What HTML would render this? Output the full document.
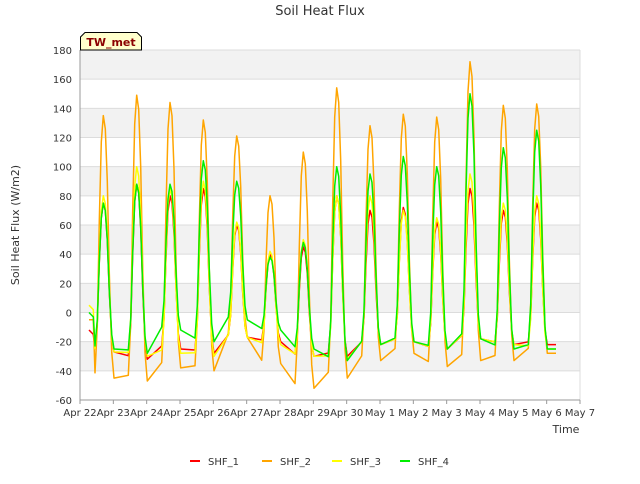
<!DOCTYPE html>
<html><head><meta charset="utf-8"><style>
body{margin:0;background:#fff;font-family:"DejaVu Sans","Liberation Sans",sans-serif;}
svg text{font-family:"DejaVu Sans","Liberation Sans",sans-serif;}
</style></head><body>
<svg id="chart" width="640" height="480" viewBox="0 0 640 480" xmlns="http://www.w3.org/2000/svg">
<g id="bands"></g>
<g id="grid"></g>
<g id="series"></g>
<g id="axes"></g>
<text x="320" y="15" text-anchor="middle" font-size="13" fill="#333">Soil Heat Flux</text>
<text transform="translate(19,225) rotate(-90)" text-anchor="middle" font-size="11" fill="#333">Soil Heat Flux (W/m2)</text>
<text x="566" y="433" text-anchor="middle" font-size="11" fill="#333">Time</text>
<g>
<path d="M80.5,50 L80.5,37 L85,32.5 L137,32.5 L141.5,37 L141.5,50 Z" fill="#ffffcc" stroke="#000" stroke-width="1"/>
<text x="111" y="46" text-anchor="middle" font-size="11" font-weight="bold" fill="#8b0000">TW_met</text>
</g>
<g id="legend"></g>
</svg>
<script>
const seriesNames=["SHF_1","SHF_2","SHF_3","SHF_4"];
const seriesColors=["#ff0000","#ffa500","#ffff00","#00ee00"];
const yTicks=[-60,-40,-20,0,20,40,60,80,100,120,140,160,180];
const xTickLabels=["Apr 22","Apr 23","Apr 24","Apr 25","Apr 26","Apr 27","Apr 28","Apr 29","Apr 30","May 1","May 2","May 3","May 4","May 5","May 6","May 7"];
// daily cycle peaks and troughs per series
const peak1=[75,88,80,85,60,40,45,80,70,72,62,85,70,75];
const peak2=[135,149,144,132,121,80,110,154,128,136,134,172,142,143];
const peak3=[80,100,85,90,62,42,50,80,80,70,65,95,75,80];
const peak4=[75,88,88,104,90,38,48,100,95,107,100,150,113,125];
const trough1=[-27,-32,-25,-28,-17,-20,-30,-30,-22,-20,-25,-18,-22,-22];
const trough2=[-45,-47,-38,-40,-17,-35,-52,-45,-33,-28,-37,-33,-33,-28];
const trough3=[-27,-30,-28,-30,-17,-22,-30,-32,-22,-20,-25,-18,-22,-25];
const trough4=[-25,-28,-12,-20,-5,-12,-25,-33,-22,-20,-25,-18,-25,-25];
const start1=[-12,-15], start2=[-5,-5], start3=[5,2], start4=[0,-3];
const allPeaks=[peak1,peak2,peak3,peak4], allTroughs=[trough1,trough2,trough3,trough4], allStarts=[start1,start2,start3,start4];
const X0=80,X1=580,Y0=400,Y1=50,T0=0,T1=15,V0=-60,V1=180;
const xs=t=>X0+(t-T0)/(T1-T0)*(X1-X0);
const ys=v=>Y0-(v-V0)/(V1-V0)*(Y0-Y1);
const NS="http://www.w3.org/2000/svg";
function mk(tag,attrs,parent){const e=document.createElementNS(NS,tag);for(const k in attrs)e.setAttribute(k,attrs[k]);parent.appendChild(e);return e;}
const bands=document.getElementById('bands'),grid=document.getElementById('grid'),axes=document.getElementById('axes');
mk('rect',{x:X0,y:Y1,width:X1-X0,height:Y0-Y1,fill:'#fff'},bands);
for(let i=0;i<yTicks.length-1;i++){
  if(i%2===1){const r=mk('rect',{x:X0,y:ys(yTicks[i+1]),width:X1-X0,height:ys(yTicks[i])-ys(yTicks[i+1]),fill:'#f2f2f2'},bands);
  
  }
}
yTicks.forEach(v=>{
  const l=mk('line',{x1:X0,x2:X1,y1:ys(v),y2:ys(v),stroke:'#dcdcdc','stroke-width':1},grid);
  
  
  const t=mk('text',{x:X0-8,y:ys(v)+4,'text-anchor':'end','font-size':10,fill:'#333'},axes);
  t.textContent=v;
  
  
});
mk('line',{x1:X1,x2:X1,y1:Y1,y2:Y0,stroke:'#dcdcdc'},grid);
xTickLabels.forEach((s,i)=>{
  const tk=mk('line',{x1:xs(i),x2:xs(i),y1:Y0,y2:Y0+4,stroke:'#999'},axes);
  
  
  const t=mk('text',{x:xs(i),y:Y0+16,'text-anchor':'middle','font-size':10,fill:'#333'},axes);
  t.textContent=s;
  
  
});
mk('line',{x1:X0,x2:X0,y1:Y1,y2:Y0,stroke:'#999'},axes);
mk('line',{x1:X0,x2:X1,y1:Y0,y2:Y0,stroke:'#999'},axes);
// fixed diurnal profile shape (offset within cycle, fraction of peak)
const prof=[[0.45,0.02],[0.52,0.2],[0.58,0.6],[0.64,0.9],[0.7,1],[0.76,0.95],[0.82,0.75],[0.88,0.4],[0.95,0.1],[1.02,0]];
const sg=document.getElementById('series');
for(let s=0;s<4;s++){
  const P=allPeaks[s],T=allTroughs[s],S=allStarts[s];
  const pts=[[0.27,S[0]],[0.4,S[1]]];
  for(let k=0;k<P.length;k++){
    prof.forEach(([o,f])=>{pts.push([k+o,T[k]+f*(P[k]-T[k])]);});
  }
  pts.push([14.28,T[T.length-1]]);
  const d=pts.map((p,i)=>(i?'L':'M')+xs(p[0]).toFixed(1)+','+ys(p[1]).toFixed(1)).join(' ');
  const path=mk('path',{d:d,fill:'none',stroke:seriesColors[s],'stroke-width':1.5,'stroke-linejoin':'round'},sg);
  
  
}
const lg=document.getElementById('legend');
const lx=[190,262,332,400];
seriesNames.forEach((n,i)=>{
  const g=mk('g',{},lg);
  
  
  mk('line',{x1:lx[i],x2:lx[i]+10,y1:461,y2:461,stroke:seriesColors[i],'stroke-width':2},g);
  const t=mk('text',{x:lx[i]+18,y:465,'font-size':10,fill:'#333'},g);
  t.textContent=n;
});
</script>
</body></html>
